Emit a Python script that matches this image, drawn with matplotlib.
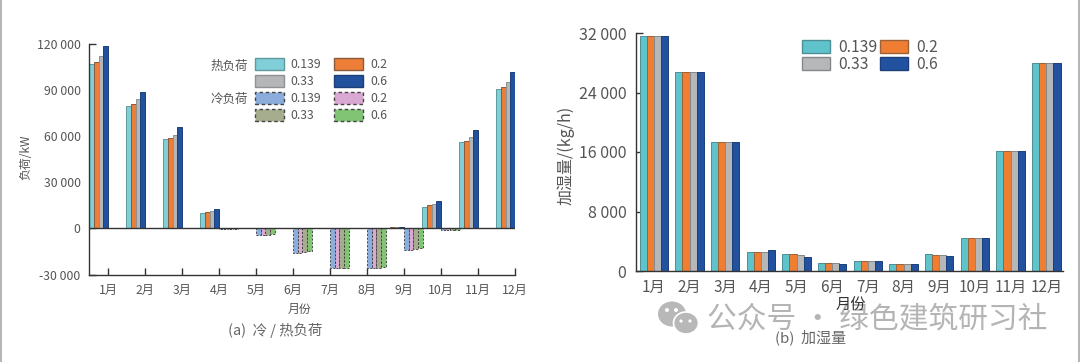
import numpy as np
import matplotlib
matplotlib.use("Agg")
import matplotlib.pyplot as plt
from matplotlib.patches import Patch, Ellipse, Rectangle, Polygon

plt.rcParams['font.family'] = ['Noto Sans CJK SC', 'DejaVu Sans']

months = ['1月','2月','3月','4月','5月','6月','7月','8月','9月','10月','11月','12月']
ratios = ['0.139','0.2','0.33','0.6']

heat_139 = [107000,79500,58000,10000,0,0,0,0,500,14000,56000,91000]
heat_2   = [108500,81000,59000,10500,0,0,0,0,600,15000,57000,92000]
heat_33  = [112000,84000,61000,11000,0,0,0,0,800,16000,59500,95000]
heat_6   = [119000,89000,66000,12500,0,0,0,0,1000,18000,64000,102000]

cold_139 = [0,0,0,-500,-4500,-16000,-26000,-25700,-14000,-1300,0,0]
cold_2   = [0,0,0,-500,-4500,-15700,-26000,-25700,-14000,-1200,0,0]
cold_33  = [0,0,0,-500,-4200,-15300,-26000,-25500,-13500,-1100,0,0]
cold_6   = [0,0,0,-500,-3800,-15000,-26000,-25000,-13000,-1000,0,0]

hum_139 = [31600,26750,17400,2500,2300,1100,1350,1000,2250,4450,16100,28000]
hum_2   = [31600,26750,17400,2500,2300,1100,1350,1000,2200,4450,16100,28000]
hum_33  = [31600,26750,17400,2600,2100,1100,1300,1000,2150,4450,16100,28000]
hum_6   = [31600,26750,17400,2800,1900,1000,1350,1000,2000,4450,16100,28000]

left_yticks = [-30000,0,30000,60000,90000,120000]
left_ylabels = ['-30 000','0','30 000','60 000','90 000','120 000']
right_yticks = [0,8000,16000,24000,32000]
right_ylabels = ['0','8 000','16 000','24 000','32 000']

heat_colors = ['#80cfd8','#ec7e38','#b4b6b8','#22519e']
heat_edges  = ['#5f9a9c','#8a5a3a','#8f9294','#1c3f78']
cold_colors = ['#8aaddc','#d9a8d3','#a6ac8e','#80c474']
hum_colors  = ['#5fc3cc','#ef7d32','#b5b7b9','#22529f']
hum_edges   = ['#4d8f95','#9a6238','#85888a','#1b3f78']
TEXT = '#555555'
DASH = (0, (2.5, 2))
W, H = 1080, 362

fig = plt.figure(figsize=(W/100, H/100), dpi=100, facecolor='white')

def axes_px(x0, x1, ytop, ybot):
    return fig.add_axes([x0/W, 1-ybot/H, (x1-x0)/W, (ybot-ytop)/H])

def ftext(x, y, s, **kw):
    kw.setdefault('color', TEXT)
    kw.setdefault('ha', 'center')
    kw.setdefault('va', 'center')
    return fig.text(x/W, 1-y/H, s, **kw)

# ---------- (a)
ax = axes_px(89, 515, 44, 274.5)
x = np.arange(12)
w = 0.128
heat = [heat_139, heat_2, heat_33, heat_6]
cold = [cold_139, cold_2, cold_33, cold_6]
for i in range(4):
    ax.bar(x-0.512+w*(i+0.5), heat[i], w, color=heat_colors[i], edgecolor=heat_edges[i], linewidth=0.7, zorder=2)
    ax.bar(x+w*(i+0.5), cold[i], w, color=cold_colors[i], edgecolor='#333333', linewidth=0.6, linestyle=DASH, zorder=2)
ax.axhline(0, color='#333333', lw=1.0, zorder=3)
ax.set_xlim(-0.513, 11.0)
ax.set_ylim(-30000, 120000)
ax.set_xticks(x, months)
ax.set_yticks(left_yticks, left_ylabels)
ax.tick_params(axis='both', direction='in', length=5, width=1.0, color='#333333', labelcolor=TEXT, labelsize=8.8, pad=6)
ax.tick_params(axis='x', pad=7)
for s in ['top','right']:
    ax.spines[s].set_visible(False)
for s in ['left','bottom']:
    ax.spines[s].set_color('#333333')
    ax.spines[s].set_linewidth(1.0)

h = [Patch(facecolor=heat_colors[0], edgecolor=heat_edges[0]),
     Patch(facecolor=heat_colors[2], edgecolor=heat_edges[2]),
     Patch(facecolor=cold_colors[0], edgecolor='#444444', linestyle=DASH),
     Patch(facecolor=cold_colors[2], edgecolor='#444444', linestyle=DASH),
     Patch(facecolor=heat_colors[1], edgecolor=heat_edges[1]),
     Patch(facecolor=heat_colors[3], edgecolor=heat_edges[3]),
     Patch(facecolor=cold_colors[1], edgecolor='#444444', linestyle=DASH),
     Patch(facecolor=cold_colors[3], edgecolor='#444444', linestyle=DASH)]
lab = [ratios[0],ratios[2],ratios[0],ratios[2],ratios[1],ratios[3],ratios[1],ratios[3]]
fig.legend(h, lab, ncol=2, loc='upper left', bbox_to_anchor=(255/W, 1-58/H), frameon=False,
           borderpad=0, borderaxespad=0, fontsize=8.8, handlelength=2.38, handleheight=1.12,
           handletextpad=0.55, columnspacing=1.05, labelspacing=0.33, labelcolor=TEXT)
ftext(229, 66, '热负荷', fontsize=9)
ftext(229, 99, '冷负荷', fontsize=9)
ftext(26, 157, '负荷/kW', rotation=90, fontsize=8.6)
ftext(300, 309, '月份', fontsize=8.6)
ftext(275, 330, '(a)  冷 / 热负荷', fontsize=10.4, color='#666666')

# ---------- (b)
ax2 = axes_px(636, 1063, 33, 271)
hum = [hum_139, hum_2, hum_33, hum_6]
w2 = 0.2
for i in range(4):
    ax2.bar(x-0.4+w2*(i+0.5), hum[i], w2, color=hum_colors[i], edgecolor=hum_edges[i], linewidth=0.7, zorder=2)
ax2.set_xlim(-0.5, 11.47)
ax2.set_ylim(0, 32000)
ax2.set_xticks(x, months)
ax2.set_yticks(right_yticks, right_ylabels)
ax2.tick_params(axis='both', direction='in', length=5, width=1.0, color='#333333', labelcolor=TEXT, labelsize=11.5, pad=7)
ax2.tick_params(axis='x', labelsize=11, pad=6)
for s in ['top','right']:
    ax2.spines[s].set_visible(False)
for s in ['left','bottom']:
    ax2.spines[s].set_color('#333333')
    ax2.spines[s].set_linewidth(1.0)

h2 = [Patch(facecolor=hum_colors[0], edgecolor=hum_edges[0]),
      Patch(facecolor=hum_colors[2], edgecolor=hum_edges[2]),
      Patch(facecolor=hum_colors[1], edgecolor=hum_edges[1]),
      Patch(facecolor=hum_colors[3], edgecolor=hum_edges[3])]
lab2 = [ratios[0],ratios[2],ratios[1],ratios[3]]
fig.legend(h2, lab2, ncol=2, loc='upper left', bbox_to_anchor=(802/W, 1-39/H), frameon=False,
           borderpad=0, borderaxespad=0, fontsize=11.3, handlelength=1.78, handleheight=0.83,
           handletextpad=0.5, columnspacing=0.2, labelspacing=0.0, labelcolor=TEXT)
ftext(566, 155, '加湿量/(kg/h)', rotation=90, fontsize=11.5)

# ---------- watermark and frame
ftext(877, 319, '公众号 · 绿色建筑研习社', fontsize=21.4, color='#b4b4b4', zorder=6)
ftext(851, 305, '月份', fontsize=11, color='#333333', zorder=7)
ftext(811, 337, '(b)  加湿量', fontsize=10.8, color='#666666', zorder=7)
fig.add_artist(Ellipse((672/W, 1-314/H), 28/W, 25/H, transform=fig.transFigure,
                       facecolor='#b8b8b8', edgecolor='none', zorder=6))
fig.add_artist(Ellipse((686/W, 1-323/H), 25/W, 22/H, transform=fig.transFigure,
                       facecolor='#b8b8b8', edgecolor='white', lw=1.2, zorder=6))
for ex, ey, er in [(667, 310, 2), (676, 310, 2), (681, 321, 1.6), (690, 321, 1.6)]:
    fig.add_artist(Ellipse((ex/W, 1-ey/H), 2*er/W, 2*er/H, transform=fig.transFigure,
                           facecolor='white', edgecolor='none', zorder=7))
fig.add_artist(Rectangle((0, 0), 1.5/W, 1, transform=fig.transFigure, facecolor='#b5b5b5', edgecolor='none'))
fig.add_artist(Rectangle((1-2/W, 0), 2/W, 1, transform=fig.transFigure, facecolor='#b5b5b5', edgecolor='none'))

fig.savefig('out.png', dpi=100)
